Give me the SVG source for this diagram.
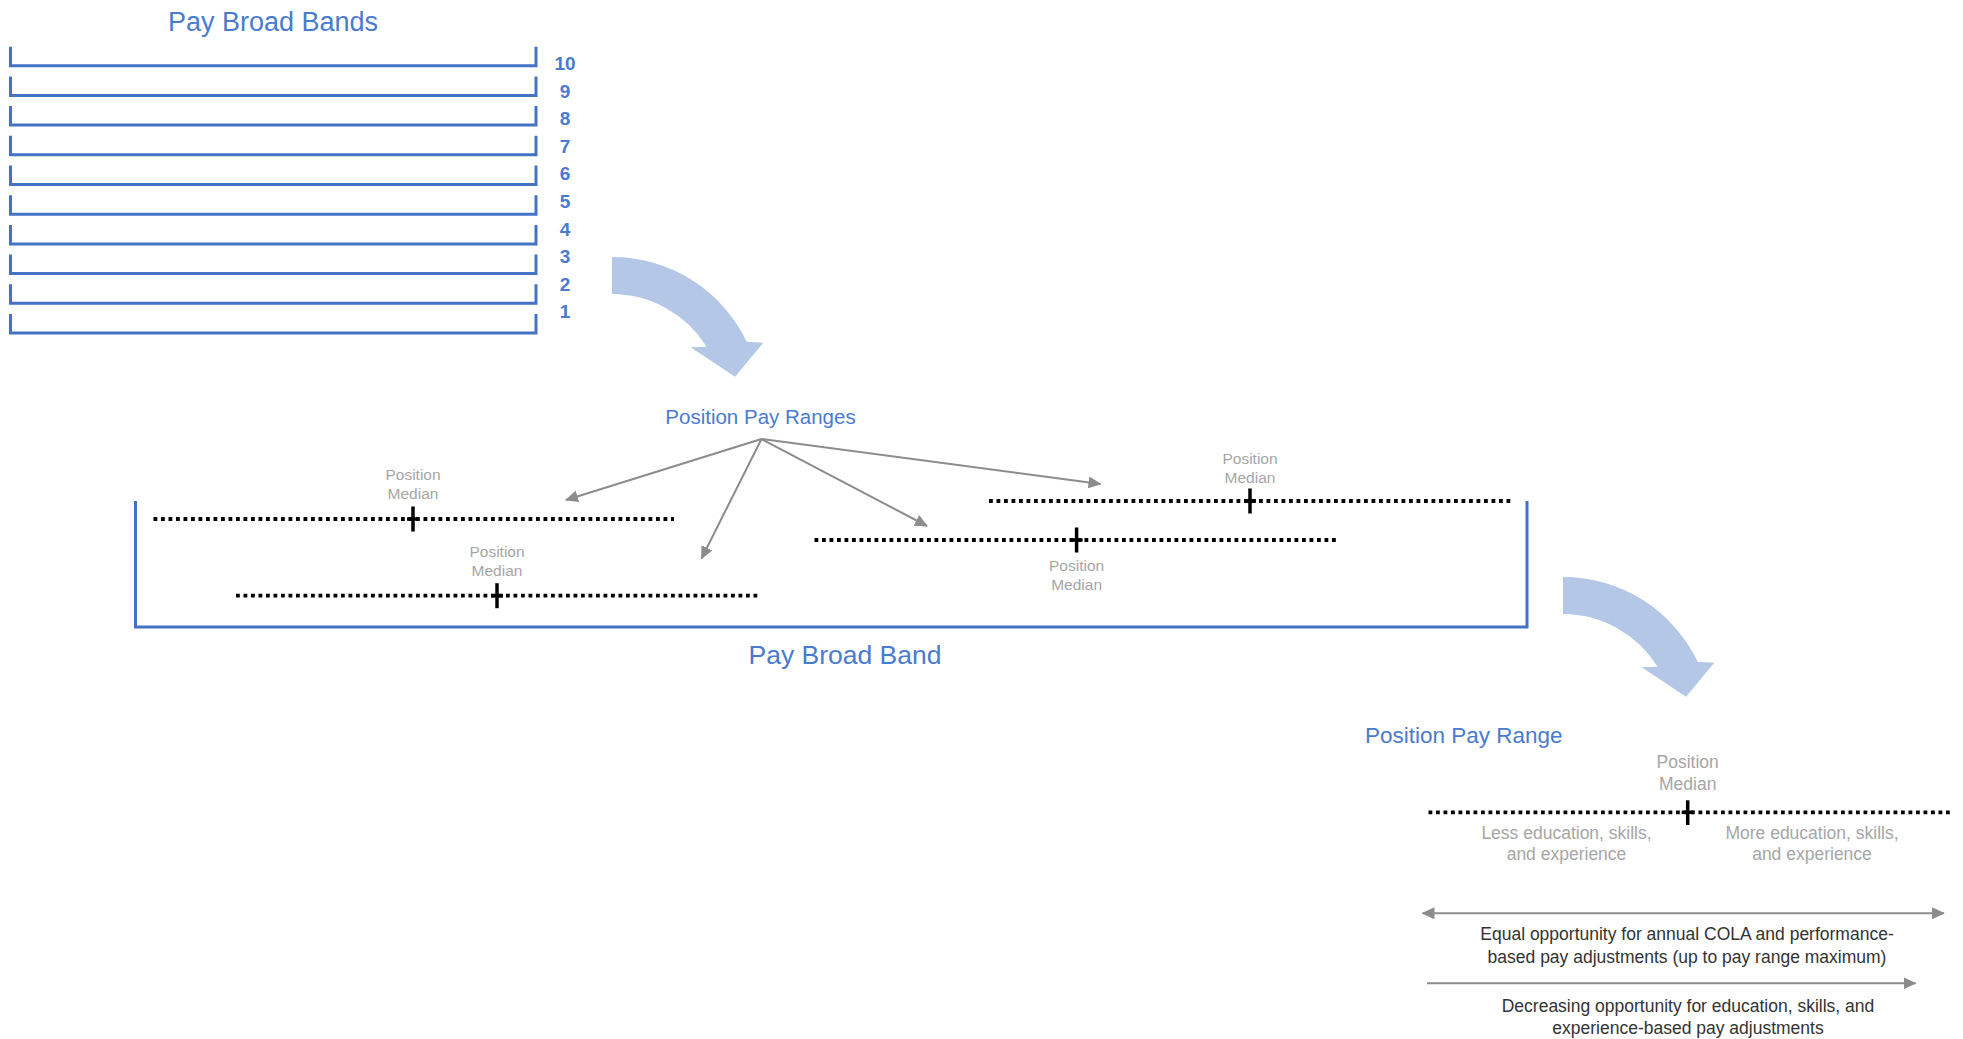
<svg xmlns="http://www.w3.org/2000/svg" width="1963" height="1039" viewBox="0 0 1963 1039">
<style>
text{font-family:"Liberation Sans",Arial,sans-serif}
.blue{fill:#4A7BD0}
.bracket{fill:none;stroke:#4472C4;stroke-width:3}
.num{fill:#4A7BD0;font-size:19px;font-weight:bold;text-anchor:middle}
.dots{stroke:#000;stroke-width:3.8;stroke-dasharray:3.8 3.7;fill:none}
.tick{stroke:#000;stroke-width:3.5;fill:none}
.lbl{fill:#A6A6A6;font-size:15.5px;text-anchor:middle}
.lbl2{fill:#A6A6A6;font-size:17.5px;text-anchor:middle}
.note{fill:#333;font-size:17.5px;text-anchor:middle}
.conn{stroke:#8C8C8C;stroke-width:2;fill:none}
.big{fill:#B4C7E7}
</style>
<defs>
<marker id="ah" markerUnits="userSpaceOnUse" markerWidth="13" markerHeight="12" viewBox="0 0 13 12" refX="12" refY="6" orient="auto">
<path d="M0,0 L13,6 L0,12 z" fill="#8C8C8C"/>
</marker>
<marker id="ahs" markerUnits="userSpaceOnUse" markerWidth="13" markerHeight="12" viewBox="0 0 13 12" refX="1" refY="6" orient="auto">
<path d="M13,0 L0,6 L13,12 z" fill="#8C8C8C"/>
</marker>
<path id="curve" d="M612,257 A149,149 0 0 1 746.7,341.7 L763.3,342.7 L735,376.7 L690.7,347.3 L706.7,346.7 A112,112 0 0 0 612,294 Z"/>
</defs>

<g id="pay-broad-bands">
<text x="273" y="31" class="blue" font-size="27" text-anchor="middle">Pay Broad Bands</text>
<path class="bracket" d="M10.5,46.7V65.7H536V46.7"/>
<path class="bracket" d="M10.5,76.4V95.4H536V76.4"/>
<path class="bracket" d="M10.5,106.1V125.1H536V106.1"/>
<path class="bracket" d="M10.5,135.8V154.8H536V135.8"/>
<path class="bracket" d="M10.5,165.5V184.5H536V165.5"/>
<path class="bracket" d="M10.5,195.2V214.2H536V195.2"/>
<path class="bracket" d="M10.5,224.9V243.9H536V224.9"/>
<path class="bracket" d="M10.5,254.6V273.6H536V254.6"/>
<path class="bracket" d="M10.5,284.3V303.3H536V284.3"/>
<path class="bracket" d="M10.5,314V333H536V314"/>
<text class="num" x="565" y="70">10</text>
<text class="num" x="565" y="97.6">9</text>
<text class="num" x="565" y="125.2">8</text>
<text class="num" x="565" y="152.8">7</text>
<text class="num" x="565" y="180.4">6</text>
<text class="num" x="565" y="208">5</text>
<text class="num" x="565" y="235.6">4</text>
<text class="num" x="565" y="263.2">3</text>
<text class="num" x="565" y="290.8">2</text>
<text class="num" x="565" y="318.4">1</text>
</g>

<g id="curved-arrow-1"><use href="#curve" class="big"/></g>

<g id="position-pay-ranges-label">
<text x="760.5" y="424.3" class="blue" font-size="20.5" text-anchor="middle">Position Pay Ranges</text>
</g>

<g id="pay-broad-band">
<path class="bracket" d="M135.5,501V627H1527V501"/>
<text x="845" y="663.5" class="blue" font-size="26.5" text-anchor="middle">Pay Broad Band</text>
</g>

<g id="range-1">
<line class="dots" x1="153.5" y1="519" x2="674" y2="519"/>
<line class="tick" x1="413" y1="506.5" x2="413" y2="531.5"/>
<line class="tick" x1="407" y1="519" x2="419" y2="519"/>
<text class="lbl" x="413" y="479.5">Position</text>
<text class="lbl" x="413" y="498.5">Median</text>
</g>

<g id="range-2">
<line class="dots" x1="236" y1="595.7" x2="758.5" y2="595.7"/>
<line class="tick" x1="497" y1="583.2" x2="497" y2="608.2"/>
<line class="tick" x1="491" y1="595.7" x2="503" y2="595.7"/>
<text class="lbl" x="497" y="557">Position</text>
<text class="lbl" x="497" y="576">Median</text>
</g>

<g id="range-3">
<line class="dots" x1="814.5" y1="540" x2="1338" y2="540"/>
<line class="tick" x1="1076.6" y1="527.5" x2="1076.6" y2="552.5"/>
<line class="tick" x1="1070.6" y1="540" x2="1082.6" y2="540"/>
<text class="lbl" x="1076.6" y="570.5">Position</text>
<text class="lbl" x="1076.6" y="590">Median</text>
</g>

<g id="range-4">
<line class="dots" x1="989" y1="501" x2="1513" y2="501"/>
<line class="tick" x1="1250" y1="488.5" x2="1250" y2="513.5"/>
<line class="tick" x1="1244" y1="501" x2="1256" y2="501"/>
<text class="lbl" x="1250" y="463.5">Position</text>
<text class="lbl" x="1250" y="483">Median</text>
</g>

<g id="curved-arrow-2"><use href="#curve" class="big" transform="translate(951,320)"/></g>

<g id="position-pay-range">
<text x="1365" y="743.3" class="blue" font-size="22.5">Position Pay Range</text>
<text class="lbl2" x="1687.7" y="767.5">Position</text>
<text class="lbl2" x="1687.7" y="790">Median</text>
<line class="dots" x1="1428.5" y1="812.3" x2="1952" y2="812.3"/>
<line class="tick" x1="1687.7" y1="800.3" x2="1687.7" y2="825"/>
<line class="tick" x1="1681.7" y1="812.3" x2="1693.7" y2="812.3"/>
<text class="lbl2" x="1566.5" y="839.3">Less education, skills,</text>
<text class="lbl2" x="1566.5" y="859.5">and experience</text>
<text class="lbl2" x="1812" y="839.3">More education, skills,</text>
<text class="lbl2" x="1812" y="859.5">and experience</text>
<text class="note" x="1687" y="940">Equal opportunity for annual COLA and performance-</text>
<text class="note" x="1687" y="962.5">based pay adjustments (up to pay range maximum)</text>
<text class="note" x="1688" y="1011.5">Decreasing opportunity for education, skills, and</text>
<text class="note" x="1688" y="1034">experience-based pay adjustments</text>
</g>

<g id="connectors">
<line class="conn" x1="761.5" y1="439" x2="566" y2="500" marker-end="url(#ah)"/>
<line class="conn" x1="761.5" y1="439" x2="701.5" y2="558.5" marker-end="url(#ah)"/>
<line class="conn" x1="761.5" y1="439" x2="927" y2="526" marker-end="url(#ah)"/>
<line class="conn" x1="761.5" y1="439" x2="1100.5" y2="484" marker-end="url(#ah)"/>
<line class="conn" stroke-width="2.5" x1="1422.5" y1="913.3" x2="1944" y2="913.3" marker-start="url(#ahs)" marker-end="url(#ah)"/>
<line class="conn" stroke-width="2.5" x1="1427" y1="983.3" x2="1915.5" y2="983.3" marker-end="url(#ah)"/>
</g>
</svg>
